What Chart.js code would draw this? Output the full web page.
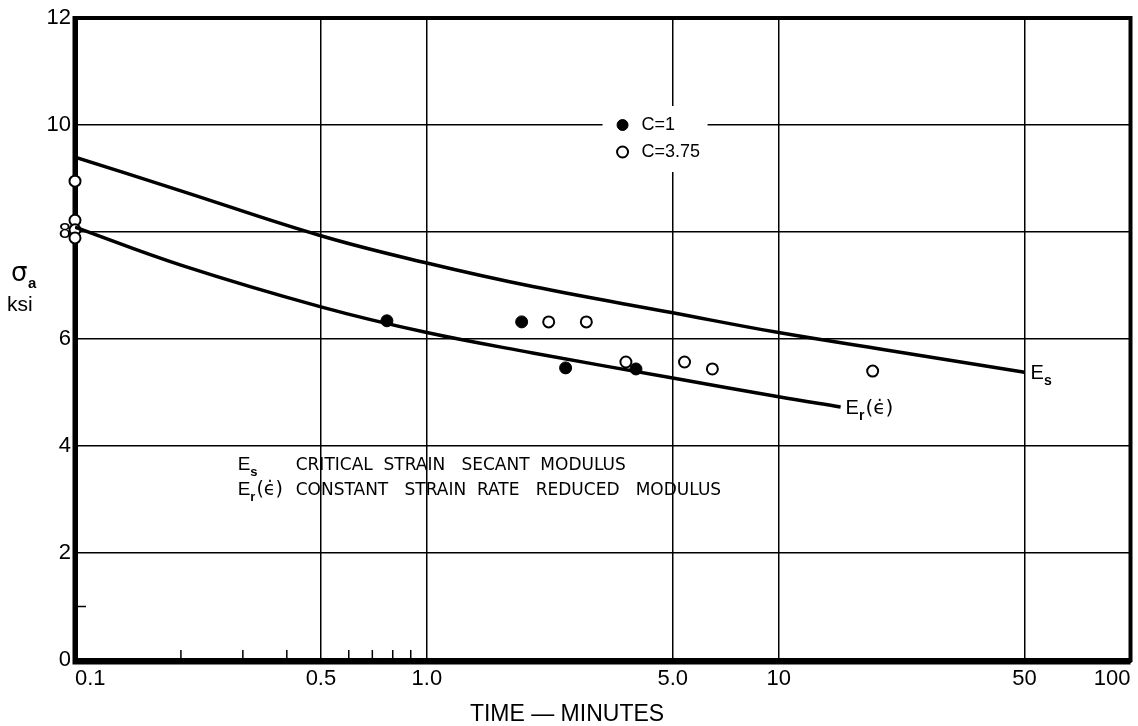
<!DOCTYPE html>
<html>
<head>
<meta charset="utf-8">
<script src="https://cdn.jsdelivr.net/npm/chart.js@4.4.1/dist/chart.umd.min.js"></script>
<style>
  body { margin: 0; background: #fff; }
  #wrap { width: 1138px; height: 726px; }
</style>
</head>
<body>
<div id="wrap"><canvas id="stressChart"></canvas></div>
<script>
// Es curve - critical strain secant modulus
const esTime = [0.1, 0.2, 0.5, 1, 2, 5, 10, 20, 50];
const esStress = [9.40, 8.77, 7.93, 7.42, 6.98, 6.49, 6.12, 5.80, 5.38];

// Er(e) curve - constant strain rate reduced modulus
const erTime = [0.1, 0.2, 0.5, 1, 2, 5, 10, 15];
const erStress = [8.09, 7.38, 6.60, 6.12, 5.74, 5.27, 4.92, 4.73];

// test points, C = 1 (filled)
const c1Time = [0.77, 1.86, 2.48, 3.93];
const c1Stress = [6.34, 6.32, 5.46, 5.44];

// test points, C = 3.75 (open)
const c375Time = [0.1, 0.1, 0.1, 0.1, 2.22, 2.84, 3.68, 5.40, 6.48, 18.5];
const c375Stress = [8.95, 8.22, 8.04, 7.89, 6.32, 6.32, 5.57, 5.57, 5.44, 5.40];

const xTicks = [0.1, 0.5, 1, 5, 10, 50, 100];
const xTickLabels = ['0.1', '0.5', '1.0', '5.0', '10', '50', '100'];
const xMinorTicks = [0.2, 0.3, 0.4, 0.6, 0.7, 0.8, 0.9];
const yTicks = [0, 2, 4, 6, 8, 10, 12];
const yMinorTicks = [1];

const LETTER = '"Liberation Sans", Arial, sans-serif';
const WIDE = '"DejaVu Sans", sans-serif';

function toPoints(xs, ys) {
    return xs.map(function (x, i) { return { x: x, y: ys[i] }; });
}

function drawSubscripted(ctx, base, sub, tail, x, y, size) {
    ctx.textAlign = 'left';
    ctx.textBaseline = 'alphabetic';
    ctx.font = size + 'px ' + LETTER;
    ctx.fillText(base, x, y);
    var w = ctx.measureText(base).width;
    ctx.font = 'bold ' + Math.round(size * 0.7) + 'px ' + LETTER;
    ctx.fillText(sub, x + w, y + size * 0.3);
    w += ctx.measureText(sub).width;
    if (tail) {
        ctx.font = size + 'px ' + WIDE;
        ctx.fillText(tail, x + w + 1, y);
    }
}

const paperPlugin = {
    id: 'paper',
    beforeDatasetsDraw: function (chart) {
        var ctx = chart.ctx, a = chart.chartArea;
        var xs = chart.scales.x, ys = chart.scales.y;
        ctx.save();
        // legend box knocks out the grid
        var lx = xs.getPixelForValue(3.6), ly = ys.getPixelForValue(10);
        ctx.fillStyle = '#fff';
        ctx.fillRect(lx - 20, ly - 19, 105, 66);
        // frame
        ctx.strokeStyle = '#000';
        ctx.lineWidth = 4;
        ctx.strokeRect(a.left, a.top, a.right - a.left, a.bottom - a.top);
        ctx.lineWidth = 5;
        ctx.beginPath();
        ctx.moveTo(a.left, a.top - 2);
        ctx.lineTo(a.left, a.bottom + 2);
        ctx.lineTo(a.right, a.bottom + 2);
        ctx.stroke();
        // minor ticks
        ctx.lineWidth = 1.5;
        ctx.beginPath();
        xMinorTicks.forEach(function (v) {
            var px = xs.getPixelForValue(v);
            ctx.moveTo(px, a.bottom);
            ctx.lineTo(px, a.bottom - 10);
        });
        yMinorTicks.forEach(function (v) {
            var py = ys.getPixelForValue(v);
            ctx.moveTo(a.left, py);
            ctx.lineTo(a.left + 11, py);
        });
        ctx.stroke();
        ctx.restore();
    },
    afterDatasetsDraw: function (chart) {
        var ctx = chart.ctx;
        var xs = chart.scales.x, ys = chart.scales.y;
        ctx.save();
        ctx.fillStyle = '#000';

        // curve labels at the curve ends
        var es = chart.getDatasetMeta(0).data, er = chart.getDatasetMeta(1).data;
        var esEnd = es[es.length - 1], erEnd = er[er.length - 1];
        drawSubscripted(ctx, 'E', 's', '', esEnd.x + 6, esEnd.y + 7, 20);
        drawSubscripted(ctx, 'E', 'r', '(\u03F5\u0307)', erEnd.x + 5, erEnd.y + 7, 20);

        // legend
        var lx = xs.getPixelForValue(3.6), ly = ys.getPixelForValue(10);
        var sets = [chart.data.datasets[2], chart.data.datasets[3]];
        sets.forEach(function (ds, i) {
            var y = ly + i * 27;
            ctx.beginPath();
            ctx.arc(lx, y, 5.5, 0, Math.PI * 2);
            ctx.fillStyle = ds.pointBackgroundColor;
            ctx.fill();
            ctx.lineWidth = ds.pointBorderWidth;
            ctx.strokeStyle = '#000';
            ctx.stroke();
            ctx.fillStyle = '#000';
            ctx.font = '18px ' + LETTER;
            ctx.textBaseline = 'middle';
            ctx.textAlign = 'left';
            ctx.fillText(ds.label, lx + 19, y);
        });

        // definitions block
        var nx = xs.getPixelForValue(0.29), ny = ys.getPixelForValue(3.55);
        drawSubscripted(ctx, 'E', 's', '', nx, ny, 19);
        drawSubscripted(ctx, 'E', 'r', '(\u03F5\u0307)', nx, ny + 25, 19);
        ctx.font = '17px ' + WIDE;
        ctx.textBaseline = 'alphabetic';
        ctx.fillText('CRITICAL  STRAIN   SECANT  MODULUS', nx + 58, ny);
        ctx.fillText('CONSTANT   STRAIN  RATE   REDUCED   MODULUS', nx + 58, ny + 25);

        // axis titles
        ctx.font = '26px ' + WIDE;
        ctx.fillText('\u03C3', 11, 281);
        ctx.font = 'bold 15px ' + LETTER;
        ctx.fillText('a', 28, 288);
        ctx.font = '21px ' + LETTER;
        ctx.fillText('ksi', 7, 311);
        ctx.font = '23px ' + LETTER;
        ctx.textAlign = 'center';
        ctx.fillText('TIME \u2014 MINUTES', 567, 721);
        ctx.restore();
    }
};

var chart = new Chart(document.getElementById('stressChart'), {
    type: 'scatter',
    data: {
        datasets: [{
            label: 'Es',
            data: toPoints(esTime, esStress),
            showLine: true,
            borderColor: '#000',
            borderWidth: 3.5,
            pointRadius: 0,
            tension: 0.4
        }, {
            label: 'Er',
            data: toPoints(erTime, erStress),
            showLine: true,
            borderColor: '#000',
            borderWidth: 3.5,
            pointRadius: 0,
            tension: 0.4
        }, {
            label: 'C=1',
            data: toPoints(c1Time, c1Stress),
            pointRadius: 6,
            pointBackgroundColor: '#000',
            pointBorderColor: '#000',
            pointBorderWidth: 1,
            clip: false
        }, {
            label: 'C=3.75',
            data: toPoints(c375Time, c375Stress),
            pointRadius: 5.5,
            pointBackgroundColor: '#fff',
            pointBorderColor: '#000',
            pointBorderWidth: 2,
            clip: false
        }]
    },
    options: {
        responsive: true,
        maintainAspectRatio: false,
        animation: false,
        layout: { padding: { top: 18, right: 5, left: 0, bottom: 0 } },
        plugins: {
            legend: { display: false },
            tooltip: { enabled: false }
        },
        scales: {
            x: {
                type: 'logarithmic',
                min: 0.1,
                max: 100,
                afterBuildTicks: function (scale) {
                    scale.ticks = xTicks.map(function (v) { return { value: v }; });
                },
                afterFit: function (scale) { scale.height = 66; },
                grid: {
                    drawTicks: false,
                    lineWidth: 1.5,
                    color: function (c) {
                        var v = c.tick && c.tick.value;
                        return (v === 0.1 || v === 100) ? 'rgba(0,0,0,0)' : '#000';
                    }
                },
                border: { display: true, color: '#000', width: 5 },
                ticks: {
                    align: 'inner',
                    padding: 6,
                    color: '#000',
                    font: { family: LETTER, size: 22 },
                    maxRotation: 0,
                    autoSkip: false,
                    callback: function (value, index) { return xTickLabels[index]; }
                }
            },
            y: {
                min: 0,
                max: 12,
                afterBuildTicks: function (scale) {
                    scale.ticks = yTicks.map(function (v) { return { value: v }; });
                },
                afterFit: function (scale) { scale.width = 75; },
                grid: {
                    drawTicks: false,
                    lineWidth: 1.5,
                    color: function (c) {
                        var v = c.tick && c.tick.value;
                        return (v === 0 || v === 12) ? 'rgba(0,0,0,0)' : '#000';
                    }
                },
                border: { display: true, color: '#000', width: 5 },
                ticks: {
                    padding: 4,
                    color: '#000',
                    font: { family: LETTER, size: 22 },
                    callback: function (value) { return String(value); }
                }
            }
        }
    },
    plugins: [paperPlugin]
});
</script>
</body>
</html>
